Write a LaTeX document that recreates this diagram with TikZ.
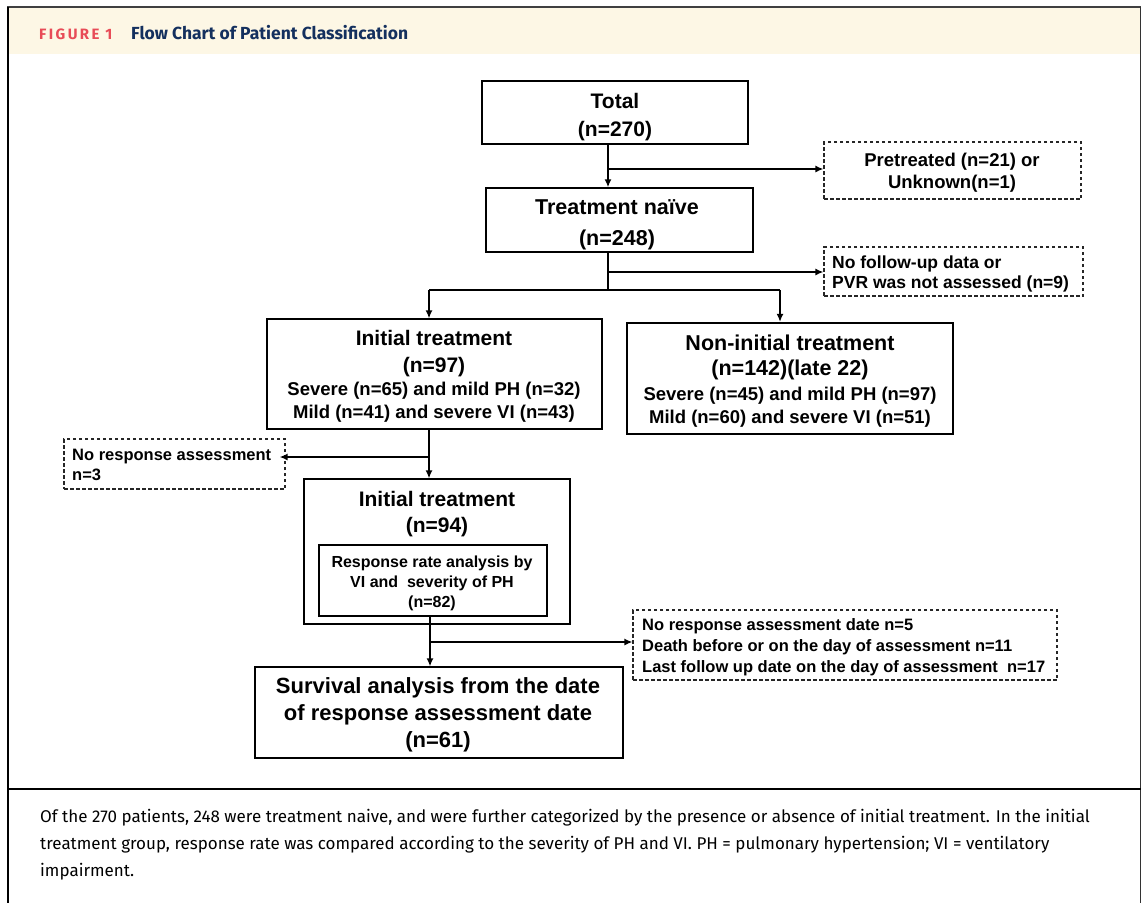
\documentclass[tikz,border=0pt]{standalone}
\usepackage{fontspec}
\setmainfont{Liberation Sans}
\newfontfamily\hdrfont{Fira Sans}
\newfontfamily\figfont[LetterSpace=16]{Fira Sans}
\newfontfamily\capfont{Fira Sans}
\usetikzlibrary{arrows.meta}
\definecolor{cream}{HTML}{FDF7E5}
\definecolor{figred}{HTML}{E84B57}
\definecolor{navy}{HTML}{14305E}
\begin{document}
\begin{tikzpicture}[x=1pt,y=-1pt,
  box/.style={draw=black, line width=1.4pt, inner sep=0pt},
  dbox/.style={draw=black!85, line width=1.1pt, dash pattern=on 3.5pt off 2.5pt, inner sep=0pt},
  conn/.style={line width=1.7pt},
  arr/.style={conn, -{Latex[length=8pt,width=7pt]}},
  txt/.style={inner sep=0pt, anchor=base, align=center},
  ltxt/.style={inner sep=0pt, anchor=base west, align=left},
  fbig/.style={font=\fontsize{21}{#1}\selectfont\bfseries},
  fmid/.style={font=\fontsize{18.5}{#1}\selectfont\bfseries},
  fsmall/.style={font=\fontsize{16.5}{#1}\selectfont\bfseries},
]
\useasboundingbox (0,0) rectangle (1142,903);
% frame
\fill[white] (0,0) rectangle (1142,903);
\fill[cream] (8,8) rectangle (1140,54);
\draw[line width=1.5pt, black!75] (7,7) -- (1141,7);
\draw[line width=2pt] (7.5,7) -- (7.5,903);
\draw[line width=1.2pt, black!80] (1140.5,7) -- (1140.5,903);
\draw[line width=2.5pt] (7,789) -- (1141,789);
\node[inner sep=0pt, anchor=base west, text=figred, font=\figfont\bfseries\fontsize{15}{15}\selectfont] (fig) at (39,39) {FIGURE 1};
\node[inner sep=0pt, anchor=base west, text=navy, font=\hdrfont\bfseries\fontsize{17.5}{17.5}\selectfont] (title) at (131,39) {Flow Chart of Patient Classification};

% boxes
\node[box, line width=1.7pt, minimum width=266pt, minimum height=63pt] (total) at (615,112.5) {};
\node[txt, fbig=28] (totalt) at (615,136) {Total\\(n=270)};

\node[box, minimum width=267pt, minimum height=64pt] (naive) at (619.5,220) {};
\node[txt, font=\fontsize{21.5}{31}\selectfont\bfseries] (naivet) at (617,245) {Treatment naïve\\(n=248)};

\node[dbox, minimum width=257pt, minimum height=57pt] (pre) at (952.5,170.5) {};
\node[txt, fmid=22] (pret) at (952,188) {Pretreated (n=21) or\\Unknown(n=1)};

\node[dbox, minimum width=259pt, minimum height=49pt] (nofollow) at (953.5,271.5) {};
\node[ltxt, font=\fontsize{17.5}{20}\selectfont\bfseries] (nofollowt) at (832,288) {No follow-up data or\\PVR was not assessed (n=9)};

\node[box, line width=1.2pt, minimum width=335pt, minimum height=110pt] (init97) at (434.5,374) {};
\node[txt, fbig=27] (init97a) at (434,372) {Initial treatment\\(n=97)};
\node[txt, fmid=23] (init97b) at (434,418) {Severe (n=65) and mild PH (n=32)\\Mild (n=41) and severe VI (n=43)};

\node[box, line width=2.2pt, minimum width=326pt, minimum height=111pt] (noninit) at (790,378.5) {};
\node[txt, font=\fontsize{21.5}{25}\selectfont\bfseries] (noninita) at (790,375) {Non-initial treatment\\(n=142)(late 22)};
\node[txt, fmid=23] (noninitb) at (790,423) {Severe (n=45) and mild PH (n=97)\\Mild (n=60) and severe VI (n=51)};

\node[dbox, minimum width=221pt, minimum height=50pt] (noresp) at (174.5,464) {};
\node[ltxt, fsmall=20] (noresptt) at (72,480) {No response assessment\\n=3};

\node[box, line width=1.2pt, minimum width=266pt, minimum height=145pt] (init94) at (437,551.5) {};
\node[txt, fbig=26] (init94t) at (437,532) {Initial treatment\\(n=94)};
\node[box, line width=1.2pt, minimum width=228pt, minimum height=71pt] (inner) at (433,580.5) {};
\node[txt, font=\fontsize{16}{20}\selectfont\bfseries] (innert) at (432,607) {Response rate analysis by\\VI and~ severity of PH\\(n=82)};

\node[box, line width=1.2pt, minimum width=368pt, minimum height=91pt] (survival) at (439,712.5) {};
\node[txt, font=\fontsize{22}{27}\selectfont\bfseries] (survivalt) at (438,747) {Survival analysis from the date\\of response assessment date\\(n=61)};

\node[dbox, minimum width=424pt, minimum height=70pt] (rdash) at (845,645) {};
\node[ltxt, fsmall=21] (rdasht) at (642,672) {No response assessment date n=5\\Death before or on the day of assessment n=11\\Last follow up date on the day of assessment~ n=17};

% connectors
\coordinate (j1) at (608,169);
\draw[arr] (total.south -| j1) -- (naive.north -| j1);
\draw[arr] (j1) -- (pre.west |- j1);
\coordinate (j2) at (608,272);
\coordinate (j3) at (608,290);
\draw[conn] (naive.south -| j3) -- (j3);
\draw[arr] (j2) -- (nofollow.west |- j2);
\coordinate (jl) at (429,290);
\coordinate (jr) at (780,290);
\draw[conn, line width=2pt] (jl) -- (jr);
\draw[arr] (jl) -- (init97.north -| jl);
\draw[arr] (jr) -- (noninit.north -| jr);
\coordinate (j4) at (429,457);
\draw[arr] (init97.south -| j4) -- (init94.north -| j4);
\draw[arr, shorten >=-6pt] (j4) -- (noresp.east |- j4);
\coordinate (j5) at (430,642);
\draw[arr] (inner.south -| j5) -- (survival.north -| j5);
\draw[arr] (j5) -- (rdash.west |- j5);

% caption
\node[inner sep=0pt, anchor=base west, align=left, font=\capfont\fontsize{17}{27}\selectfont] (caption) at (40,876) {Of the 270 patients, 248 were treatment naive, and were further categorized by the presence or absence of initial treatment. In the initial\\treatment group, response rate was compared according to the severity of PH and VI. PH = pulmonary hypertension; VI = ventilatory\\impairment.};
\end{tikzpicture}
\end{document}
